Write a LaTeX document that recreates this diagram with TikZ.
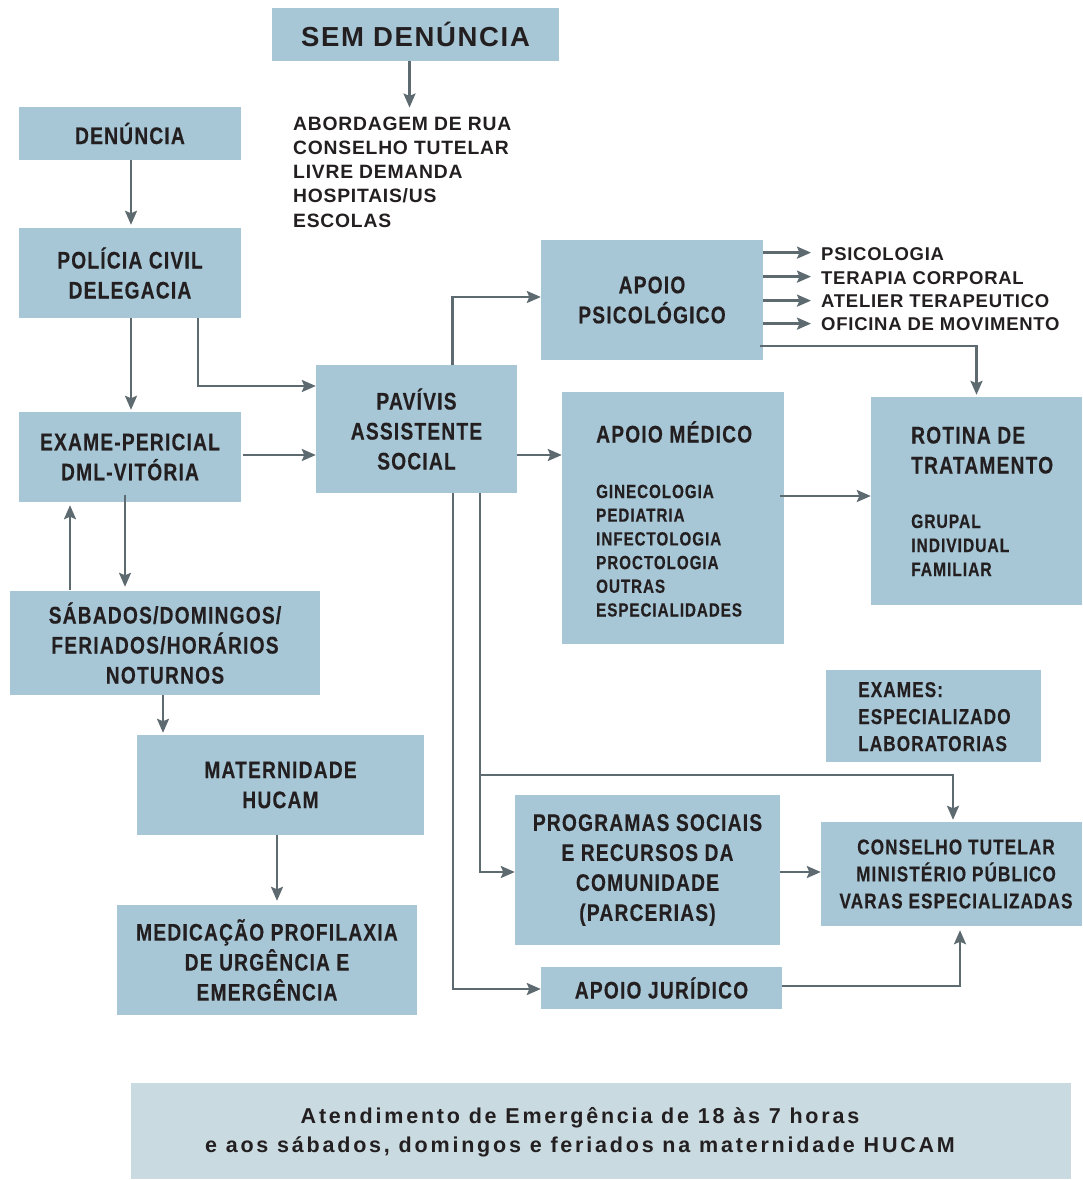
\documentclass[tikz,border=0pt]{standalone}
\usepackage{fontspec}
\setmainfont{Liberation Sans}
\newfontfamily\cnd{Liberation Sans}[FakeStretch=0.8,LetterSpace=5,FakeBold=0.3]
\newfontfamily\spc{Liberation Sans}[LetterSpace=4]
\newfontfamily\spcs{Liberation Sans}[LetterSpace=6]
\newfontfamily\spcw{Liberation Sans}[LetterSpace=13]
\usetikzlibrary{arrows.meta,calc}
\definecolor{boxc}{RGB}{167,198,214}
\definecolor{notec}{RGB}{201,218,225}
\definecolor{arrc}{RGB}{93,106,112}
\definecolor{txt}{RGB}{35,31,32}
\begin{document}
\begin{tikzpicture}[x=1pt,y=-1pt,
  box/.style={fill=boxc,draw=none,inner sep=0pt,text=txt,align=center,
    font=\cnd\bfseries\fontsize{24}{30}\selectfont},
  boxsm/.style={box,font=\cnd\bfseries\fontsize{21.5}{27}\selectfont},
  plainbox/.style={fill=boxc,draw=none,inner sep=0pt},
  ltxt/.style={inner sep=0pt,text=txt,align=left,anchor=base west,
    font=\cnd\bfseries\fontsize{24}{30}\selectfont},
  lsm/.style={inner sep=0pt,text=txt,align=left,anchor=base west,
    font=\cnd\bfseries\fontsize{19}{23.7}\selectfont},
  list/.style={inner sep=0pt,text=txt,align=left,anchor=base west,
    font=\spc\bfseries\fontsize{18.5}{24.2}\selectfont},
  arr/.style={draw=arrc,line width=2.4pt,-{Stealth[inset=2.5pt,length=14pt,width=12pt]}}
]
\useasboundingbox (0,0) rectangle (1083,1180);

% boxes
\node[box,minimum width=287pt,minimum height=53pt,font=\spcs\bfseries\fontsize{27.5}{30}\selectfont] (sem) at (415.5,34.5) {SEM DENÚNCIA};
\node[box,minimum width=222pt,minimum height=53pt] (den) at (130,133.5) {DENÚNCIA};
\node[box,minimum width=222pt,minimum height=90pt] (pol) at (130,273) {POLÍCIA CIVIL\\DELEGACIA};
\node[box,minimum width=222pt,minimum height=90pt] (exa) at (130,457) {EXAME-PERICIAL\\DML-VITÓRIA};
\node[box,minimum width=201pt,minimum height=128pt] (pav) at (416.5,429) {PAVÍVIS\\ASSISTENTE\\SOCIAL};
\node[box,minimum width=310pt,minimum height=104pt] (sab) at (165,643) {SÁBADOS/DOMINGOS/\\FERIADOS/HORÁRIOS\\NOTURNOS};
\node[box,minimum width=287pt,minimum height=100pt] (mat) at (280.5,785) {MATERNIDADE\\HUCAM};
\node[box,minimum width=300pt,minimum height=110pt] (medi) at (267,960) {MEDICAÇÃO PROFILAXIA\\DE URGÊNCIA E\\EMERGÊNCIA};
\node[box,minimum width=222pt,minimum height=120pt] (psy) at (652,300) {APOIO\\PSICOLÓGICO};
\node[plainbox,minimum width=222pt,minimum height=252pt] (med) at (673,518) {};
\node[plainbox,minimum width=211pt,minimum height=208pt] (rot) at (976.5,501) {};
\node[plainbox,minimum width=215pt,minimum height=92pt] (exm) at (933.5,716) {};
\node[box,minimum width=265pt,minimum height=150pt] (prog) at (647.5,870) {PROGRAMAS SOCIAIS\\E RECURSOS DA\\COMUNIDADE\\(PARCERIAS)};
\node[plainbox,minimum width=261pt,minimum height=104pt] (cons) at (951.5,874) {};
\node[box,minimum width=241pt,minimum height=42pt] (jur) at (661.5,988) {APOIO JURÍDICO};
\node[fill=notec,inner sep=0pt,minimum width=940pt,minimum height=96pt] (note) at (601,1131) {};

% texts placed inside boxes
\node[boxsm,fill=none] (const) at (956,874) {CONSELHO TUTELAR\\MINISTÉRIO PÚBLICO\\VARAS ESPECIALIZADAS};
\node[inner sep=0pt,text=txt,align=center,font=\spcw\bfseries\fontsize{21.5}{29.5}\selectfont] (notet) at (580,1132) {Atendimento de Emergência de 18 às 7 horas\\e aos sábados, domingos e feriados na maternidade HUCAM};
\node[ltxt] (medt) at (596,442.5) {APOIO MÉDICO};
\node[lsm] (medl) at (596,616.5) {GINECOLOGIA\\PEDIATRIA\\INFECTOLOGIA\\PROCTOLOGIA\\OUTRAS\\ESPECIALIDADES};
\node[ltxt] (rott) at (911,473.5) {ROTINA DE\\TRATAMENTO};
\node[lsm,font=\cnd\bfseries\fontsize{19.5}{24}\selectfont] (rotl) at (911,576) {GRUPAL\\INDIVIDUAL\\FAMILIAR};
\node[lsm,font=\cnd\bfseries\fontsize{21.5}{27}\selectfont] (exmt) at (858,751) {EXAMES:\\ESPECIALIZADO\\LABORATORIAS};

% free lists
\node[list,font=\spc\bfseries\fontsize{19.3}{24.2}\selectfont] (svc) at (293,227) {ABORDAGEM DE RUA\\CONSELHO TUTELAR\\LIVRE DEMANDA\\HOSPITAIS/US\\ESCOLAS};
\node[list] (p1) at (821,260) {PSICOLOGIA};
\node[list] (p2) at (821,284) {TERAPIA CORPORAL};
\node[list] (p3) at (821,307) {ATELIER TERAPEUTICO};
\node[list] (p4) at (821,330) {OFICINA DE MOVIMENTO};

% connectors
\draw[arr] ($(sem.south)+(-6,0)$) -- ($(sem.south |- svc.north)+(-6,-9)$);
\draw[arr] ($(den.south)+(1,0)$) -- ($(pol.north)+(1,-3)$);
\draw[arr] ($(pol.south)+(1,0)$) -- ($(exa.north)+(1,-2)$);
\draw[arr] ($(pol.south)+(68,0)$) |- ($(pav.west)+(0,-43)$);
\draw[arr] ($(exa.east)+(2,-2)$) -- ($(pav.west)+(0,26)$);
\draw[arr] ($(exa.south)+(-5,-7)$) -- ($(sab.north -| exa.south)+(-5,-4)$);
\draw[arr] ($(sab.north)+(-95,-1)$) -- ($(exa.south)+(-60,3)$);
\draw[arr] ($(sab.south)+(-2,0)$) -- ($(mat.north -| sab.south)+(-2,-2)$);
\draw[arr] ($(mat.south)+(-3.5,0)$) -- ($(medi.north -| mat.south)+(-3.5,-4)$);
\draw[arr] ($(pav.north)+(36,0)$) |- ($(psy.west)+(0,-3)$);
\draw[arr] ($(pav.east)+(0,26)$) -- ($(med.west)+(0,-63)$);
\draw[arr] ($(psy.east |- p1.west)+(0,-1)$) -- ($(p1.west)+(-10,-1)$);
\draw[arr] ($(psy.east |- p2.west)+(0,-1)$) -- ($(p2.west)+(-10,-1)$);
\draw[arr] ($(psy.east |- p3.west)+(0,0)$) -- ($(p3.west)+(-10,0)$);
\draw[arr] ($(psy.east |- p4.west)+(0,0)$) -- ($(p4.west)+(-10,0)$);
\draw[arr] ($(psy.east)+(-3,46)$) -| ($(rot.north)+(0,-2)$);
\draw[arr] ($(med.east)+(-4,-22)$) -- ($(rot.west)+(0,-5)$);
\draw[arr] ($(pav.south)+(63.5,0)$) |- ($(prog.west)+(0,2)$);
\draw[arr] ($(pav.south)+(63.5,282)$) -| ($(cons.north)+(1.5,-2)$);
\draw[arr] ($(pav.south)+(36.5,0)$) |- ($(jur.west)+(0,1)$);
\draw[arr] ($(prog.east)+(0,2)$) -- ($(prog.east -| cons.west)+(0,2)$);
\draw[arr] ($(jur.east)+(0,-2)$) -| ($(cons.south)+(8.5,4)$);
\end{tikzpicture}
\end{document}
